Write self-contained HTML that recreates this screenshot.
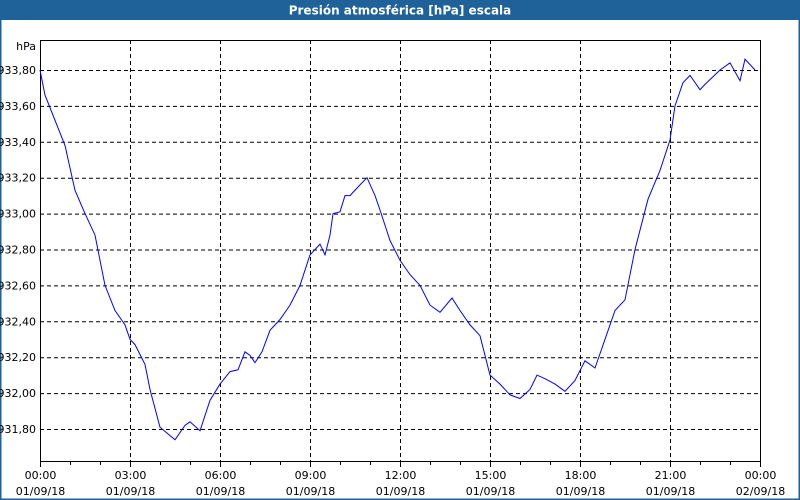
<!DOCTYPE html>
<html><head><meta charset="utf-8"><style>
html,body{margin:0;padding:0;background:#fff;}
#wrap{position:relative;width:800px;height:500px;overflow:hidden;font-family:"DejaVu Sans","Liberation Sans",sans-serif;}
</style></head><body>
<div id="wrap">
<svg id="chart" width="800" height="500"></svg>
</div>
<script>
const minutes=[0,10,30,50,70,90,110,130,150,170,180,190,210,220,240,270,290,300,320,340,360,380,396,410,420,430,444,460,480,500,520,540,560,570,580,586,600,610,620,640,654,670,680,700,720,740,760,780,800,824,840,860,880,900,920,940,960,980,994,1010,1030,1050,1070,1090,1110,1130,1150,1170,1190,1216,1240,1260,1270,1286,1300,1320,1330,1360,1380,1400,1410,1430,1450,1430];
const values=[933.80,933.66,933.52,933.38,933.13,933.00,932.88,932.60,932.46,932.38,932.30,932.27,932.16,932.02,931.81,931.74,931.82,931.84,931.79,931.96,932.05,932.12,932.13,932.23,932.21,932.17,932.23,932.35,932.41,932.49,932.60,932.77,932.83,932.77,932.88,933.00,933.01,933.10,933.10,933.16,933.20,933.10,933.02,932.85,932.74,932.66,932.60,932.49,932.45,932.53,932.46,932.38,932.32,932.10,932.05,931.99,931.97,932.02,932.10,932.08,932.05,932.01,932.07,932.18,932.14,932.30,932.46,932.52,932.80,933.08,933.24,933.41,933.60,933.73,933.77,933.69,933.72,933.80,933.84,933.74,933.86,933.80];
values.length=minutes.length-1; minutes.length=values.length;
const yTicks=[931.80,932.00,932.20,932.40,932.60,932.80,933.00,933.20,933.40,933.60,933.80];
const xTickHours=[0,3,6,9,12,15,18,21,24];
const xTickDates=["01/09/18","01/09/18","01/09/18","01/09/18","01/09/18","01/09/18","01/09/18","01/09/18","02/09/18"];

const NS="http://www.w3.org/2000/svg";
const svg=document.getElementById('chart');
const L=40,R=760,T=40,B=461;
const x=m=>L+(m/1440)*(R-L);
const y=v=>70+(933.8-v)/0.2*35.9;
function mk(tag,attrs,parent){const e=document.createElementNS(NS,tag);for(const k in attrs)e.setAttribute(k,attrs[k]);(parent||svg).appendChild(e);return e;}

// window frame & title
let fr=mk('rect',{x:0.5,y:0.5,width:799,height:499,fill:'#fff',stroke:'#1f6199','stroke-width':2});

let tb=mk('rect',{x:0,y:0,width:800,height:20,fill:'#1f6199'});

let tt=mk('text',{x:400,y:14.5,'text-anchor':'middle',fill:'#fff','font-size':12,'font-weight':'bold'});
tt.textContent='Presión atmosférica [hPa] escala';


// grid
yTicks.forEach(v=>{
  let g=mk('line',{x1:L,x2:R,y1:y(v)+0.5,y2:y(v)+0.5,stroke:'#000','stroke-dasharray':'4,3','stroke-width':1});
  
  let t=mk('text',{x:36,y:y(v)+4,'text-anchor':'end','font-size':11,fill:'#000'});
  t.textContent=v.toFixed(2).replace('.',',');
  
});
xTickHours.forEach((h,i)=>{
  const px=Math.round(x(h*60))+0.5;
  if(h>0&&h<24){let g=mk('line',{x1:px,x2:px,y1:T,y2:B,stroke:'#000','stroke-dasharray':'4,3'});
  }
  let t=mk('text',{x:px,y:479,'text-anchor':'middle','font-size':11});
  t.textContent=String(h%24===0&&h?0:h).padStart(2,'0')+':00';
  
  let d=mk('text',{x:px,y:495,'text-anchor':'middle','font-size':11});
  d.textContent=xTickDates[i];
  
});
for(let h=0;h<=24;h++){const px=Math.round(x(h*60))+0.5;
  let tk=mk('line',{x1:px,x2:px,y1:B,y2:B+(h%3===0?6:4),stroke:'#000'});
  }
let box=mk('rect',{x:L+0.5,y:T+0.5,width:R-L,height:B-T,fill:'none',stroke:'#000'});

let u=mk('text',{x:36,y:50,'text-anchor':'end','font-size':11});u.textContent='hPa';


// series
const pts=minutes.map((m,i)=>x(m).toFixed(1)+','+y(values[i]).toFixed(1)).join(' ');
let ln=mk('polyline',{points:pts,fill:'none',stroke:'#0000ff','stroke-width':1});

</script>
</body></html>
